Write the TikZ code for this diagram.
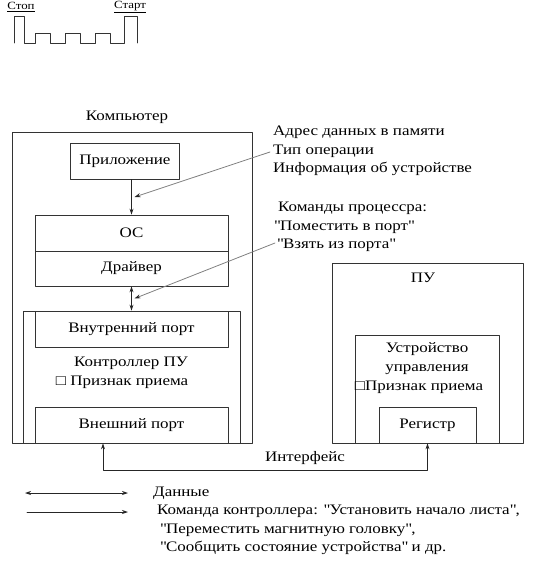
\documentclass[tikz,border=0pt]{standalone}
\usepackage{fontspec}
\setmainfont[FakeStretch=1.17]{Liberation Serif}
\usetikzlibrary{arrows.meta,calc}

\newcommand{\qq}{\textquotedbl}
\tikzset{
  txt/.style={font=\fontsize{14.5}{18.5}\selectfont,inner sep=0pt},
  box/.style={draw=black!80,line width=0.8pt,rectangle,inner sep=0pt,txt},
  flow/.style={draw=black!85,line width=0.8pt,-{Stealth[length=6pt,width=4pt]}},
  both/.style={flow,{Stealth[length=6pt,width=4pt]}-{Stealth[length=6pt,width=4pt]}},
  note/.style={draw=black!50,line width=0.8pt,-{Stealth[length=6pt,width=4pt,black!85]}},
}

\begin{document}
\begin{tikzpicture}[line cap=round,line join=round,x=1pt,y=-1pt]
\useasboundingbox (0,0) rectangle (534,563);
% signal
\draw[black!80,line width=0.9pt] (14,43) -- (14,16) -- (24,16) -- (24,43) -- (35,43) -- (35,33) -- (50,33) -- (50,43) -- (65,43) -- (65,33) -- (80,33) -- (80,43) -- (95,43) -- (95,33) -- (110,33) -- (110,43) -- (124,43) -- (124,16) -- (137,16) -- (137,43);
\node[txt,font=\fontsize{11}{13}\selectfont] (stop) at (21,7) {\underline{Стоп}};
\node[txt,font=\fontsize{11}{13}\selectfont] (start) at (130,7) {\underline{Старт}};
% computer
\node[box,minimum width=240pt,minimum height=311pt] (comp) at (132,287.5) {};
\node[txt] (comptxt) at (127,117) {Компьютер};
\node[box,minimum width=109pt,minimum height=36pt] (app) at (125,161) {Приложение};
\node[box,minimum width=193pt,minimum height=36pt] (os) at (131.5,233) {ОС};
\node[box,minimum width=193pt,minimum height=35pt] (drv) at (131.5,268.5) {Драйвер};
\node[box,minimum width=217pt,minimum height=132pt] (ctrl) at (131.5,377) {};
\node[box,minimum width=193pt,minimum height=36pt] (inport) at (131.5,329) {Внутренний порт};
\node[box,minimum width=193pt,minimum height=36pt] (export) at (131.5,425) {Внешний порт};
\node[txt] (ctrltxt) at (131,363) {Контроллер ПУ};
\node[txt] (flag1) at (122,382) {□ Признак приема};
\draw[flow] (app.south -| os.north) -- (os.north);
\draw[both] (drv.south) -- (inport.north);
% device
\node[box,minimum width=191pt,minimum height=180pt] (pu) at (427.5,353) {};
\node[txt] (putxt) at (423,278) {ПУ};
\node[box,minimum width=144pt,minimum height=108pt] (dev) at (427,389) {};
\node[txt,align=center] (devtxt) at (427,358.5) {Устройство\\управления};
\node[txt] (flag2) at (419,387) {□Признак приема};
\node[box,minimum width=97pt,minimum height=36pt] (reg) at (427.5,425) {Регистр};
% interface
\coordinate (ifl) at ([xshift=-28.5pt]export.south);
\draw[both] (ifl) -- ++(0,27) -| (reg.south);
\node[txt] (iftxt) at (305,458) {Интерфейс};
% notes
\node[txt,anchor=north west,align=left] (note1) at (273,126) {Адрес данных в памяти\\Тип операции\\Информация об устройстве};
\node[txt,anchor=north west,align=left] (note2) at (274,202) {\hspace{4pt}Команды процессра:\\\qq Поместить в порт\qq\\\hspace{3pt}\qq Взять из порта\qq};
\coordinate (n1) at (270,152);
\coordinate (n2) at (275,243);
\coordinate (a1) at ($(app.south -| os.north)!.5!(os.north)$);
\coordinate (a2) at ($(drv.south)!.5!(inport.north)$);
\draw[note] (n1) -- ([xshift=3pt]a1);
\draw[note] (n2) -- ([xshift=3pt]a2);
% legend
\coordinate (d1) at (25,493);
\coordinate (d2) at (128,493);
\coordinate (c1) at (27,512);
\coordinate (c2) at (128,512);
\draw[both] (d1) -- (d2);
\draw[flow] (c1) -- (c2);
\node[txt,anchor=west] (datatxt) at (153,493) {Данные};
\node[txt,anchor=north west,align=left] (cmdtxt) at (157,505) {Команда контроллера: \qq Установить начало листа\qq,\\\hspace{3pt}\qq Переместить магнитную головку\qq,\\\hspace{3pt}\qq Сообщить состояние устройства\qq{} и др.};
\end{tikzpicture}
\end{document}
